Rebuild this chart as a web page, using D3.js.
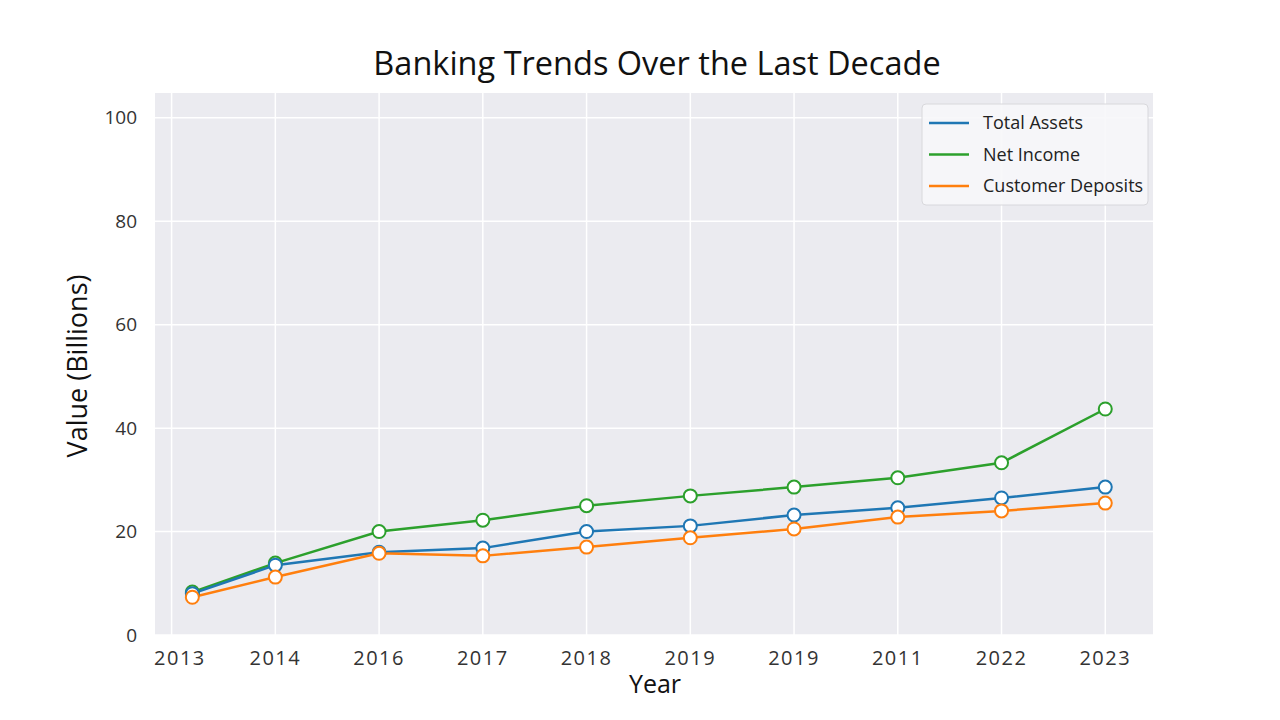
<!DOCTYPE html>
<html><head><meta charset="utf-8">
<script src="https://cdn.jsdelivr.net/npm/d3@7"></script>
<style>body{margin:0;background:#fff;} svg{display:block;font-family:"Open Sans",sans-serif;}</style>
</head><body>
<svg id="c" width="1280" height="720"></svg>
<script>
const tickLabels = ["2013","2014","2016","2017","2018","2019","2019","2011","2022","2023"];
const xPositions = [0.2,1,2,3,4,5,6,7,8,9];
const totalAssets = [8.0,13.5,16.0,16.8,20.0,21.1,23.2,24.6,26.5,28.6];
const netIncome = [8.3,13.9,20.0,22.2,25.0,26.9,28.6,30.4,33.3,43.7];
const customerDeposits = [7.3,11.2,15.8,15.3,17.0,18.8,20.5,22.8,24.0,25.5];
const seriesNames = ["Total Assets","Net Income","Customer Deposits"];
const colors = ["#1f77b4","#2ca02c","#ff7f0e"];
const yTicks = [0,20,40,60,80,100];

const svg = d3.select("#c");
const L=155,R=1153,T=93,B=635;
const x = d3.scaleLinear().domain([-0.16,9.46]).range([L,R]);
const y = d3.scaleLinear().domain([0,104.8]).range([B,T]);

svg.append("rect").attr("x",L).attr("y",T).attr("width",R-L).attr("height",B-T).attr("fill","#ebebf0");
const g = svg.append("g");
g.selectAll(".vg").data(tickLabels).join("line")
  .attr("x1",(d,i)=>x(i)).attr("x2",(d,i)=>x(i)).attr("y1",T).attr("y2",B)
  .attr("stroke","#fff").attr("stroke-width",1.5);
g.selectAll(".hg").data(yTicks).join("line")
  .attr("x1",L).attr("x2",R).attr("y1",d=>y(d)).attr("y2",d=>y(d))
  .attr("stroke","#fff").attr("stroke-width",1.5);

svg.selectAll(".yt").data(yTicks).join("text")
  .attr("x",137).attr("y",d=>y(d)).attr("dy","0.35em").attr("text-anchor","end")
  .attr("font-size",19).attr("fill","#333").text(d=>d);
svg.selectAll(".xt").data(tickLabels).join("text")
  .attr("x",(d,i)=>i===0?x(0.08):x(i)).attr("y",665).attr("text-anchor","middle")
  .attr("font-size",20).attr("letter-spacing","1.5px").attr("fill","#333").text(d=>d);

svg.append("text").attr("x",657).attr("y",75).attr("text-anchor","middle")
  .attr("font-size",32.5).attr("fill","#111").text("Banking Trends Over the Last Decade");
svg.append("text").attr("x",655).attr("y",693).attr("text-anchor","middle")
  .attr("font-size",25).attr("fill","#111").text("Year");
svg.append("text").attr("transform","translate(87,366) rotate(-90)").attr("text-anchor","middle")
  .attr("font-size",27).attr("fill","#111").text("Value (Billions)");

const allSeries=[totalAssets,netIncome,customerDeposits];
const line = d3.line().x((d,i)=>x(xPositions[i])).y(d=>y(d));
[1,0,2].forEach(k=>{
  svg.append("path").datum(allSeries[k]).attr("d",line).attr("fill","none")
    .attr("stroke",colors[k]).attr("stroke-width",2.5);
});
[1,0,2].forEach(k=>{
  svg.selectAll(".m"+k).data(allSeries[k]).join("circle")
    .attr("cx",(d,i)=>x(xPositions[i])).attr("cy",d=>y(d)).attr("r",6.5)
    .attr("fill","#fff").attr("stroke",colors[k]).attr("stroke-width",2);
});

const lg = svg.append("g");
lg.append("rect").attr("x",922).attr("y",104).attr("width",226).attr("height",101).attr("rx",4)
  .attr("fill","#f7f7f9").attr("fill-opacity",0.9).attr("stroke","#d8d8dc");
seriesNames.forEach((n,i)=>{
  const yy=123+i*31.5;
  lg.append("line").attr("x1",929).attr("x2",969).attr("y1",yy).attr("y2",yy)
    .attr("stroke",colors[i]).attr("stroke-width",2.5);
  lg.append("text").attr("x",983).attr("y",yy).attr("dy","0.35em").attr("font-size",18)
    .attr("fill","#222").text(n);
});
</script>
</body></html>
